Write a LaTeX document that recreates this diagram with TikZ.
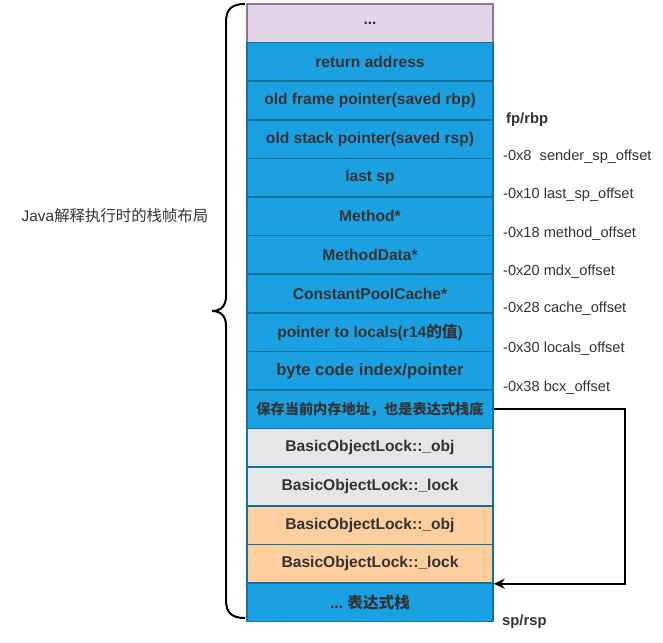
\documentclass[tikz,border=0pt]{standalone}
\usepackage{fontspec}
\setmainfont{Liberation Sans}
\newfontfamily\cjk{Noto Sans CJK SC}
\usetikzlibrary{arrows.meta,positioning,calc}

\definecolor{slotblue}{HTML}{1BA1E2}
\definecolor{slotline}{HTML}{10739E}
\definecolor{slotgrey}{HTML}{E6E6E6}
\definecolor{slotorange}{HTML}{FFCE9F}
\definecolor{slotpurple}{HTML}{E1D5E7}
\definecolor{purpleline}{HTML}{9673A6}
\definecolor{ink}{HTML}{333333}

\newcommand{\moredots}{...}

\begin{document}
\begin{tikzpicture}[x=1pt, y=-1pt, >={Stealth[length=11pt,width=10pt]}]

\useasboundingbox (0,0) rectangle (663,642);

\tikzset{
  slot/.style={draw=slotline, line width=1.5pt, fill=slotblue, text=ink,
    minimum width=246pt, minimum height=38.6pt, inner sep=0pt,
    font=\fontsize{15.6}{18}\selectfont\bfseries},
  slot 1/.style={fill=slotpurple, draw=purpleline},
  slot 10/.style={font=\fontsize{16.7}{19}\selectfont\bfseries},
  slot 11/.style={font=\fontsize{14.2}{17}\selectfont\bfseries},
  slot 12/.style={fill=slotgrey},
  slot 13/.style={fill=slotgrey},
  slot 14/.style={fill=slotorange},
  slot 15/.style={fill=slotorange},
  offset/.style={anchor=west, text=ink, inner sep=0pt,
    font=\fontsize{14.6}{17}\selectfont},
  pointer/.style={offset, font=\fontsize{14.8}{17}\selectfont\bfseries}
}

% stack slots, top to bottom
\foreach \t [count=\y] in {\moredots,return address,old frame pointer(saved rbp),
    old stack pointer(saved rsp),last sp,Method*,MethodData*,
    ConstantPoolCache*,pointer to locals(r14{\cjk 的值}),
    byte code index/pointer,{\cjk 保存当前内存地址，也是表达式栈底},
    BasicObjectLock::\_obj,BasicObjectLock::\_lock,
    BasicObjectLock::\_obj,BasicObjectLock::\_lock,
    \moredots\ {\cjk 表达式栈}}
  \node [slot, slot \y/.try] (slot-\y) at (370,{23.3+(\y-1)*38.6}) {\t};

% offsets from fp
\node [pointer] (fp) at (506,120) {fp/rbp};
\foreach \l/\yy [count=\i] in {-0x8\ \ sender\_sp\_offset/157,
    -0x10 last\_sp\_offset/195, -0x18 method\_offset/234,
    -0x20 mdx\_offset/272, -0x28 cache\_offset/309,
    -0x30 locals\_offset/349, -0x38 bcx\_offset/388}
  \node [offset] (off-\i) at (503,\yy) {\l};
\node [pointer] (sp) at (502,622) {sp/rsp};

% expression stack bottom
\draw [->, line width=2pt] (slot-11.east) -- ++(131,0) |- (slot-15.south east);

% frame brace
\coordinate (brace-top) at (245,4);
\coordinate (brace-tip) at (212,311);
\coordinate (brace-bot) at (245,618);
\draw [line width=2pt]
  (brace-top) .. controls (232,4) and (226,9) .. (226,22)
  -- (226,296) .. controls (226,306) and (221,311) .. (brace-tip)
  .. controls (221,311) and (226,316) .. (226,326)
  -- (226,600) .. controls (226,613) and (232,618) .. (brace-bot);

\node [text=ink, font=\fontsize{15.4}{18}\selectfont] (frame) at (115,216)
  {Java{\cjk 解释执行时的栈帧布局}};

\end{tikzpicture}
\end{document}
